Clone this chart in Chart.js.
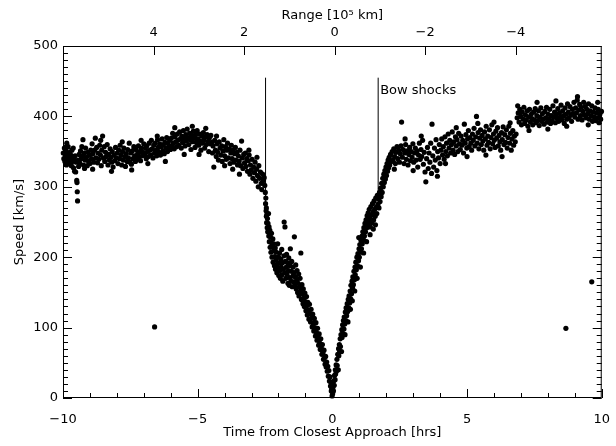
<!DOCTYPE html>
<html>
<head>
<meta charset="utf-8">
<script src="https://cdn.jsdelivr.net/npm/chart.js@4.4.1/dist/chart.umd.min.js"></script>
<style>
  html, body { margin: 0; padding: 0; background: #fff; }
  #wrap { width: 616px; height: 446px; }
</style>
</head>
<body>
<div id="wrap"><canvas id="chart" width="616" height="446"></canvas></div>
<script>
// Speed [km/s] against time from closest approach [hrs].
// Each entry is [hrs, km/s].

// solar wind before the inbound bow shock
const upstreamInbound = [
  [-9.99,348],[-9.97,340],[-9.95,355],[-9.93,336],[-9.91,344],[-9.89,352],[-9.87,331],[-9.85,346],[-9.83,339],[-9.81,357],
  [-9.79,342],[-9.77,334],[-9.75,349],[-9.73,338],[-9.71,345],[-9.69,330],[-9.67,352],[-9.65,336],[-9.63,343],[-9.61,327],
  [-9.59,339],[-9.57,322],[-9.55,344],[-9.53,321],[-9.51,335],[-9.49,309],[-9.48,306],[-9.47,293],[-9.46,280],[-9.44,338],
  [-9.42,329],[-9.40,346],[-9.38,334],[-9.35,351],[-9.32,340],[-9.30,357],[-9.27,344],[-9.26,367],[-9.24,331],[-9.21,348],
  [-9.18,338],[-9.16,355],[-9.13,342],[-9.10,330],[-9.08,349],[-9.05,336],[-9.02,345],[-9.00,333],[-8.97,352],[-8.94,340],
  [-8.92,361],[-8.89,347],[-8.86,335],[-8.83,352],[-8.80,369],[-8.78,341],[-8.75,356],[-8.72,334],[-8.70,348],[-8.67,339],
  [-8.64,359],[-8.61,345],[-8.58,330],[-8.56,352],[-8.53,372],[-8.50,341],[-8.47,357],[-8.45,336],[-8.42,349],[-8.39,343],
  [-8.36,360],[-8.33,331],[-8.31,346],[-8.28,338],[-8.25,354],[-8.22,342],[-8.19,335],[-8.17,350],[-8.14,328],[-8.11,345],
  [-8.08,337],[-8.05,356],[-8.02,341],[-7.99,348],[-7.96,333],[-7.93,352],[-7.90,340],[-7.88,359],[-7.85,345],[-7.82,331],
  [-7.79,350],[-7.76,338],[-7.74,355],[-7.71,343],[-7.68,329],[-7.65,347],[-7.62,336],[-7.60,353],[-7.57,341],[-7.54,362],
  [-7.51,335],[-7.48,348],[-7.46,332],[-7.43,351],[-7.40,340],[-7.37,357],[-7.34,344],[-7.31,336],[-7.29,353],[-7.26,339],
  [-7.23,347],[-7.20,358],[-7.17,342],[-7.15,350],[-7.12,337],[-7.09,355],[-7.06,344],[-7.03,349],[-7.00,361],[-6.97,346],
  [-6.94,355],[-6.91,340],[-6.89,358],[-6.86,350],[-6.83,343],[-6.80,362],[-6.77,352],[-6.74,345],[-6.72,366],[-6.69,354],
  [-6.66,341],[-6.63,359],[-6.60,348],[-6.58,362],[-6.55,352],[-6.52,344],[-6.49,367],[-6.46,356],[-6.43,349],[-6.41,361],
  [-6.38,345],[-6.35,357],[-6.32,368],[-6.29,351],[-6.27,360],[-6.24,347],[-6.21,363],[-6.18,355],[-6.15,370],[-6.12,350],
  [-6.10,362],[-6.07,357],[-6.04,366],[-6.01,353],[-5.98,369],[-5.95,358],[-5.93,376],[-5.90,362],[-5.87,354],[-5.84,371],
  [-5.81,364],[-5.78,357],[-5.76,375],[-5.73,366],[-5.70,359],[-5.67,378],[-5.64,368],[-5.61,355],[-5.59,372],[-5.56,363],
  [-5.53,380],[-5.50,369],[-5.47,358],[-5.44,374],[-5.42,365],[-5.39,382],[-5.36,370],[-5.33,360],[-5.30,376],[-5.27,367],
  [-5.25,353],[-5.22,373],[-5.19,364],[-5.16,379],[-5.13,369],[-5.10,356],[-5.08,374],[-5.05,363],[-5.02,380],[-4.99,368],
  [-4.96,359],[-4.93,375],[-4.91,365],[-4.88,352],[-4.85,372],[-4.82,362],[-4.79,377],[-4.76,367],[-4.74,355],[-4.71,371],
  [-4.68,360],[-4.65,374],[-4.62,364],[-4.59,350],[-4.57,369],[-4.54,361],[-4.51,373],[-4.48,363],[-4.45,348],[-4.43,358],
  [-4.40,328],[-4.37,366],[-4.34,352],[-4.31,343],[-4.28,361],[-4.26,349],[-4.23,338],[-4.20,364],[-4.17,355],[-4.14,345],
  [-4.11,358],[-4.09,336],[-4.06,351],[-4.03,367],[-4.00,344],[-3.97,357],[-3.94,339],[-3.92,352],[-3.89,362],[-3.86,341],
  [-3.83,354],[-3.80,333],[-3.77,348],[-3.75,359],[-3.72,340],[-3.69,352],[-3.66,335],[-3.63,347],[-3.60,356],[-3.58,338],
  [-3.55,349],[-3.52,331],[-3.49,344],[-3.46,336],[-3.43,352],[-3.40,330],[-3.37,365],[-3.35,341],[-3.32,326],[-3.29,346],
  [-3.26,334],[-3.23,348],[-3.21,329],[-3.18,340],[-3.15,322],[-3.12,337],[-3.09,345],[-3.06,318],[-3.04,331],[-3.01,324],
  [-2.98,339],[-2.95,312],[-2.92,328],[-2.89,320],[-2.87,335],[-2.84,308],[-2.81,325],[-2.78,316],[-2.75,300],[-2.73,330],
  [-2.70,312],[-2.67,321],[-2.64,305],[-2.62,296],[-2.59,318],[-2.56,309],[-2.53,313],[-2.51,302]
];

// looser readings on the edges of the inbound band
const scatterInbound = [
  [-9.86,362],[-9.62,355],[-9.20,326],[-8.90,325],[-8.60,366],[-8.20,322],[-7.80,364],[-7.45,324],[-7.10,366],[-6.85,333],
  [-6.50,372],[-6.20,336],[-5.85,384],[-5.50,346],[-5.20,386],[-4.95,346],[-4.70,383],[-4.30,372],[-4.00,330],[-3.70,325],
  [-3.45,318],[-3.10,352],[-2.80,342]
];

// magnetosheath, inbound leg
const sheathInbound = [
  [-2.49,292],[-2.48,276],[-2.47,284],[-2.46,266],[-2.45,258],[-2.45,270],[-2.44,249],[-2.43,261],[-2.42,242],[-2.41,255],
  [-2.40,236],[-2.39,248],[-2.37,262],[-2.36,230],[-2.35,243],[-2.34,222],[-2.32,238],[-2.31,214],[-2.30,229],[-2.28,207],
  [-2.27,221],[-2.26,234],[-2.24,200],[-2.23,215],[-2.21,226],[-2.20,193],[-2.18,209],[-2.17,219],[-2.15,188],[-2.14,201],
  [-2.12,213],[-2.11,183],[-2.09,196],[-2.08,207],[-2.06,178],[-2.05,190],[-2.03,219],[-2.02,185],[-2.00,200],[-1.99,174],
  [-1.97,192],[-1.96,206],[-1.94,181],[-1.93,170],[-1.91,197],[-1.90,186],[-1.88,211],[-1.87,175],[-1.85,192],[-1.84,166],
  [-1.82,183],[-1.80,202],[-1.79,250],[-1.77,178],[-1.76,243],[-1.74,194],[-1.73,170],[-1.71,186],[-1.70,204],[-1.68,176],
  [-1.66,192],[-1.65,163],[-1.63,181],[-1.62,199],[-1.60,160],[-1.59,171],[-1.57,188],[-1.56,212],[-1.54,166],[-1.52,180],
  [-1.51,194],[-1.49,158],[-1.47,173],[-1.46,186],[-1.44,165],[-1.42,178],[-1.41,229],[-1.39,160],[-1.37,172],[-1.36,189],
  [-1.34,155],[-1.32,168],[-1.31,181],[-1.29,150],[-1.27,163],[-1.25,176],[-1.24,145],[-1.22,158],[-1.20,170],[-1.18,152],
  [-1.17,206],[-1.15,140],[-1.13,161],[-1.11,148],[-1.09,134],[-1.08,155],[-1.06,142],[-1.04,130],[-1.02,149],[-1.00,137],
  [-0.98,124],[-0.96,144],[-0.95,131],[-0.93,118],[-0.91,136],[-0.89,125],[-0.87,112],[-0.85,133],[-0.83,120],[-0.81,108],
  [-0.79,126],[-0.77,114],[-0.75,101],[-0.73,119],[-0.71,106],[-0.69,95],[-0.67,113],[-0.65,100],[-0.63,88],[-0.61,107],
  [-0.59,93],[-0.57,82],[-0.55,99],[-0.53,86],[-0.51,75],[-0.49,91],[-0.47,78],[-0.45,69],[-0.43,84],[-0.41,71],
  [-0.39,62],[-0.37,76],[-0.35,64],[-0.33,55],[-0.31,68],[-0.29,57],[-0.27,48],[-0.25,59],[-0.23,44],[-0.21,51],
  [-0.19,38],[-0.17,45],[-0.15,31],[-0.13,39],[-0.11,24],[-0.09,30],[-0.07,17],[-0.05,22],[-0.04,10],[-0.02,14],
  [-0.01,3]
];

// magnetosheath, outbound leg
const sheathOutbound = [
  [0.01,6],[0.02,15],[0.04,10],[0.05,24],[0.07,18],[0.08,32],[0.10,26],[0.11,40],[0.12,34],[0.14,47],
  [0.15,38],[0.17,55],[0.18,46],[0.20,62],[0.22,40],[0.23,70],[0.24,60],[0.26,76],[0.27,66],[0.29,84],
  [0.30,73],[0.32,90],[0.34,66],[0.35,97],[0.36,86],[0.38,104],[0.39,92],[0.41,110],[0.43,98],[0.44,115],
  [0.46,105],[0.47,90],[0.48,122],[0.50,110],[0.51,128],[0.53,117],[0.55,134],[0.57,123],[0.58,108],[0.59,140],
  [0.61,128],[0.62,145],[0.64,135],[0.66,152],[0.67,126],[0.68,141],[0.69,160],[0.71,148],[0.73,166],[0.74,138],
  [0.75,156],[0.76,172],[0.78,161],[0.80,180],[0.82,168],[0.83,152],[0.84,186],[0.85,175],[0.87,193],[0.89,182],
  [0.91,200],[0.92,170],[0.93,188],[0.95,205],[0.97,195],[0.98,228],[0.99,212],[1.00,200],[1.02,218],[1.04,186],
  [1.05,207],[1.06,224],[1.08,212],[1.10,230],[1.11,219],[1.13,236],[1.15,225],[1.16,206],[1.17,242],[1.19,230],
  [1.21,248],[1.23,236],[1.25,253],[1.27,222],[1.28,242],[1.29,259],[1.31,247],[1.33,263],[1.35,251],[1.37,268],
  [1.39,256],[1.40,232],[1.41,243],[1.43,272],[1.45,260],[1.47,249],[1.49,276],[1.51,264],[1.52,240],[1.53,253],
  [1.55,280],[1.57,268],[1.59,258],[1.60,246],[1.61,284],[1.63,271],[1.65,262],[1.67,288],[1.69,275]
];

// solar wind after the outbound bow shock
const upstreamOutbound = [
  [1.71,283],[1.73,270],[1.75,292],[1.77,279],[1.79,298],[1.81,286],[1.83,305],[1.85,292],[1.87,312],[1.89,300],
  [1.91,318],[1.93,306],[1.95,323],[1.97,311],[1.99,328],[2.01,316],[2.03,333],[2.05,322],[2.07,338],[2.09,327],
  [2.11,342],[2.13,331],[2.16,346],[2.19,336],[2.22,350],[2.25,338],[2.28,354],[2.31,343],[2.34,333],[2.37,349],
  [2.40,357],[2.43,340],[2.46,352],[2.49,335],[2.52,347],[2.55,358],[2.57,392],[2.60,342],[2.63,353],[2.66,333],
  [2.69,348],[2.72,360],[2.75,339],[2.78,351],[2.81,331],[2.84,346],[2.87,356],[2.90,337],[2.93,350],[2.96,342],
  [2.99,361],[3.02,335],[3.05,348],[3.08,355],[3.11,338],[3.14,351],[3.17,328],[3.20,345],[3.23,362],[3.26,339],
  [3.29,353],[3.32,343],[3.35,366],[3.38,332],[3.41,349],[3.44,321],[3.47,307],[3.50,340],[3.53,356],[3.56,326],
  [3.59,348],[3.62,335],[3.65,362],[3.68,319],[3.70,389],[3.73,344],[3.76,328],[3.79,355],[3.82,338],[3.85,367],
  [3.88,323],[3.91,350],[3.94,341],[3.97,360],[4.00,333],[4.03,352],[4.06,368],[4.09,345],[4.12,357],[4.15,339],
  [4.18,371],[4.21,350],[4.24,362],[4.27,344],[4.30,375],[4.33,355],[4.36,366],[4.39,348],[4.42,360],[4.45,378],
  [4.48,352],[4.51,364],[4.54,346],[4.57,371],[4.60,358],[4.63,367],[4.66,350],[4.69,376],[4.72,361],[4.75,353],
  [4.78,372],[4.81,359],[4.84,366],[4.87,348],[4.90,389],[4.93,362],[4.96,374],[4.99,355],[5.02,368],[5.05,380],
  [5.08,357],[5.11,370],[5.14,362],[5.17,352],[5.20,375],[5.23,366],[5.26,383],[5.29,358],[5.32,371],[5.35,400],
  [5.38,362],[5.41,377],[5.44,354],[5.47,369],[5.50,381],[5.53,360],[5.56,373],[5.59,365],[5.62,352],[5.65,378],
  [5.68,368],[5.71,386],[5.74,359],[5.77,372],[5.80,363],[5.83,381],[5.86,354],[5.89,370],[5.92,388],[5.95,361],
  [5.98,375],[6.01,366],[6.04,356],[6.07,379],[6.10,369],[6.13,384],[6.16,358],[6.19,373],[6.22,364],[6.25,352],
  [6.28,377],[6.31,367],[6.34,385],[6.37,360],[6.40,374],[6.43,363],[6.46,381],[6.49,355],[6.52,370],[6.55,386],
  [6.58,362],[6.61,376],[6.64,352],[6.67,368],[6.70,380],[6.73,359],[6.76,372],[6.79,364],[6.82,375],
  [6.86,398],[6.88,415],[6.90,405],[6.93,392],[6.96,410],[6.99,400],[7.02,388],[7.05,406],[7.08,396],[7.11,413],
  [7.14,390],[7.17,402],[7.20,395],[7.23,408],[7.26,386],[7.29,399],[7.32,410],[7.35,392],[7.38,403],[7.41,397],
  [7.44,388],[7.47,406],[7.50,395],[7.53,411],[7.56,391],[7.59,401],[7.62,394],[7.65,408],[7.68,387],[7.71,399],
  [7.74,412],[7.77,393],[7.80,404],[7.83,396],[7.86,389],[7.89,407],[7.92,398],[7.95,413],[7.98,392],[8.01,403],
  [8.04,396],[8.07,410],[8.10,390],[8.13,401],[8.16,394],[8.19,415],[8.22,399],[8.25,406],[8.28,391],[8.31,402],
  [8.34,397],[8.37,411],[8.40,393],[8.43,405],[8.46,399],[8.49,416],[8.52,395],[8.55,408],[8.58,401],[8.61,390],
  [8.64,412],[8.67,403],[8.70,396],[8.73,418],[8.76,406],[8.79,398],[8.82,414],[8.85,402],[8.88,393],[8.91,410],
  [8.94,404],[8.97,420],[9.00,399],[9.03,412],[9.06,405],[9.09,423],[9.12,396],[9.15,409],[9.18,417],[9.21,401],
  [9.24,413],[9.27,395],[9.30,407],[9.33,420],[9.36,402],[9.39,414],[9.42,398],[9.45,410],[9.48,404],[9.51,418],
  [9.54,396],[9.57,408],[9.60,401],[9.63,415],[9.66,393],[9.69,406],[9.72,399],[9.75,412],[9.78,394],[9.81,405],
  [9.84,398],[9.87,410],[9.90,391],[9.93,403],[9.96,396],[9.99,407]
];

// looser readings on the edges of the outbound band
const scatterOutbound = [
  [2.30,325],[2.70,368],[3.00,323],[3.30,372],[3.90,315],[4.20,333],[4.60,384],[5.00,343],[5.40,390],[5.70,345],
  [6.00,392],[6.30,343],[6.60,391],[7.30,380],[7.60,420],[8.00,382],[8.30,422],[8.70,386],[9.10,428],[9.50,388],
  [9.85,420]
];

// isolated low readings
const outliers = [[-6.6,101],[8.67,99],[9.63,165]];

// bow shock crossings: time, bottom and top of the marker line
const bowShockTime = [-2.48, 1.70];
const bowShockLow = [255, 280];
const bowShockHigh = [455, 455];
const bowShockLabel = 'Bow shocks';
const bowShockLabelSpeed = 437;

// axis ticks
const timeTicks = [-10, -5, 0, 5, 10];
const speedTicks = [0, 100, 200, 300, 400, 500];
const rangeTicks = [4, 2, 0, -2, -4];

const FONT = "'DejaVu Sans', sans-serif";
const INK = '#000';

const minus = v => (v < 0 ? '\u2212' + Math.abs(v) : String(v));
const toPoints = pairs => pairs.map(p => ({ x: p[0], y: p[1] }));

const allPoints = [
  ...upstreamInbound, ...scatterInbound, ...sheathInbound, ...sheathOutbound,
  ...upstreamOutbound, ...scatterOutbound, ...outliers
];

const shockLines = bowShockTime.map((t, i) => ({
  type: 'line',
  data: [{ x: t, y: bowShockLow[i] }, { x: t, y: bowShockHigh[i] }],
  borderColor: INK,
  borderWidth: 1,
  pointRadius: 0,
  showLine: true,
  fill: false
}));

// IDL style: frame plus inward tick marks on all four sides
const frameTicks = {
  id: 'frameTicks',
  afterDatasetsDraw(chart) {
    const { ctx, chartArea: a, scales } = chart;
    ctx.save();
    ctx.strokeStyle = INK;
    ctx.lineWidth = 1;
    ctx.strokeRect(a.left + 0.5, a.top + 0.5, a.right - a.left - 1, a.bottom - a.top - 1);
    ctx.beginPath();
    // speed: major every 100, minor every 10
    for (let v = 0; v <= 500; v += 10) {
      const y = Math.round(scales.y.getPixelForValue(v)) + 0.5;
      const len = speedTicks.includes(v) ? 9 : 5;
      ctx.moveTo(a.left, y); ctx.lineTo(a.left + len, y);
      ctx.moveTo(a.right, y); ctx.lineTo(a.right - len, y);
    }
    // time: major every 5, minor every 1
    for (let t = -10; t <= 10; t += 1) {
      const x = Math.round(scales.x.getPixelForValue(t)) + 0.5;
      const len = timeTicks.includes(t) ? 9 : 5;
      ctx.moveTo(x, a.bottom); ctx.lineTo(x, a.bottom - len);
    }
    // range on top
    rangeTicks.forEach(r => {
      const x = Math.round(scales.x2.getPixelForValue(r)) + 0.5;
      ctx.moveTo(x, a.top); ctx.lineTo(x, a.top + 9);
    });
    ctx.stroke();

    ctx.fillStyle = INK;
    ctx.font = '13px ' + FONT;
    ctx.textBaseline = 'middle';
    ctx.textAlign = 'left';
    ctx.fillText(bowShockLabel,
      scales.x.getPixelForValue(bowShockTime[1]) + 2,
      scales.y.getPixelForValue(bowShockLabelSpeed));
    ctx.restore();
  }
};

const axisFont = { family: FONT, size: 13 };

new Chart(document.getElementById('chart'), {
  type: 'scatter',
  data: {
    datasets: [
      {
        data: toPoints(allPoints),
        backgroundColor: INK,
        borderWidth: 0,
        pointRadius: 2.6,
        pointHoverRadius: 2.6,
        clip: false
      },
      ...shockLines
    ]
  },
  options: {
    responsive: false,
    animation: false,
    devicePixelRatio: 1,
    layout: { padding: { right: 13 } },
    plugins: { legend: { display: false }, tooltip: { enabled: false } },
    scales: {
      x: {
        type: 'linear', position: 'bottom', min: -10, max: 10,
        grid: { display: false }, border: { display: false },
        afterBuildTicks: s => { s.ticks = timeTicks.map(v => ({ value: v })); },
        ticks: { color: INK, font: axisFont, padding: 6, maxRotation: 0, autoSkip: false, callback: minus },
        title: { display: true, text: 'Time from Closest Approach [hrs]', color: INK, font: axisFont, padding: { bottom: 6 } },
        afterFit: s => { s.height = 48; }
      },
      x2: {
        type: 'linear', axis: 'x', position: 'top', min: -5.9, max: 6.0, reverse: true,
        grid: { display: false, drawTicks: false }, border: { display: false },
        afterBuildTicks: s => { s.ticks = rangeTicks.map(v => ({ value: v })); },
        ticks: { color: INK, font: axisFont, padding: 6, maxRotation: 0, autoSkip: false, callback: minus },
        title: { display: true, text: 'Range [10\u2075 km]', color: INK, font: axisFont, padding: { top: 8 } },
        afterFit: s => { s.height = 46; }
      },
      y: {
        type: 'linear', position: 'left', min: 0, max: 500,
        grid: { display: false, drawTicks: false }, border: { display: false },
        afterBuildTicks: s => { s.ticks = speedTicks.map(v => ({ value: v })); },
        ticks: { color: INK, font: axisFont, padding: 5, autoSkip: false },
        title: { display: true, text: 'Speed [km/s]', color: INK, font: axisFont, padding: { top: 12 } },
        afterFit: s => { s.width = 63; }
      }
    }
  },
  plugins: [frameTicks]
});
</script>
</body>
</html>
